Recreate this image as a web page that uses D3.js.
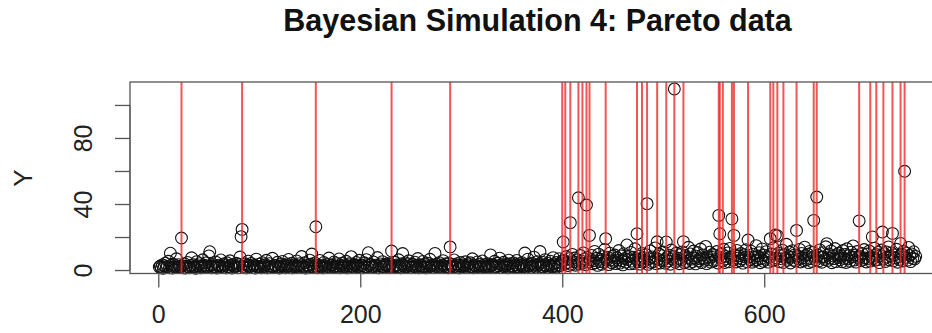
<!DOCTYPE html>
<html>
<head>
<meta charset="utf-8">
<script src="https://cdn.jsdelivr.net/npm/d3@7"></script>
<style>
  body { margin: 0; background: #fff; }
  svg { display: block; font-family: "Liberation Sans", Arial, sans-serif; }
</style>
</head>
<body>
<svg id="chart" width="932" height="333"></svg>
<script>
// chart text
const title = 'Bayesian Simulation 4: Pareto data';
const yLabel = 'Y';
const xTicks = [0, 200, 400, 600];
const yTicks = [0, 20, 40, 60, 80, 100];
const yTickLabels = ['0', '', '40', '', '80', ''];

// Y values for index 1..750 (25 per row)
const yValues = [
  1.8,2.4,1.3,3.1,1.1,2.7,4.2,1.6,2.2,5.3,1.4,10.2,2.9,1.2,3.6,1.9,2.5,6.8,1.5,3.3,2.1,1.7,19.4,2.6,1.3,
  3.8,1.2,2.3,4.6,1.9,1.4,2.8,7.4,1.6,3.2,2.0,1.1,5.1,2.7,1.8,3.9,1.3,2.4,6.2,1.7,2.9,4.3,1.5,2.2,8.6,
  11.1,2.6,1.4,3.4,2.1,1.9,4.8,1.2,2.5,3.0,1.7,6.1,2.3,1.5,3.7,2.8,1.3,4.4,2.0,1.6,5.6,2.9,1.2,3.3,2.4,
  1.8,4.1,2.7,1.4,3.5,7.9,20.2,24.6,2.2,1.6,3.8,1.3,2.9,5.4,1.9,2.4,4.0,1.5,3.1,2.6,1.2,6.6,2.3,1.8,3.6,
  2.0,1.4,4.5,2.8,1.7,3.3,5.9,1.3,2.5,3.9,1.6,2.2,7.1,1.9,3.0,2.7,1.5,4.7,2.1,1.2,3.4,2.6,5.2,1.8,2.9,
  1.4,3.7,2.3,6.4,1.6,2.8,4.1,1.3,2.0,3.2,1.9,5.5,2.4,1.5,3.9,2.7,8.2,1.7,2.2,4.4,1.2,3.1,2.5,1.8,6.0,
  3.5,9.7,2.1,1.6,4.3,26.2,2.6,1.4,3.0,5.8,1.9,2.4,1.3,4.6,2.8,1.7,3.6,2.2,7.3,1.5,2.9,3.3,1.8,4.9,2.3,
  1.6,3.9,2.5,6.7,1.4,2.7,4.2,1.9,3.1,2.0,5.3,1.3,2.6,3.8,1.7,8.1,2.4,1.5,3.4,2.9,4.6,1.8,2.2,5.9,1.6,
  3.2,2.6,1.4,4.4,2.1,6.3,1.7,10.5,2.8,3.5,1.5,2.3,4.9,1.9,3.0,2.5,7.6,1.3,2.7,3.7,1.8,5.1,2.2,1.6,3.4,
  2.9,4.0,1.7,2.4,3.6,11.5,2.0,1.5,4.7,2.6,3.1,1.8,6.2,2.3,1.4,3.9,10.0,2.7,1.9,4.3,2.1,3.3,5.6,1.6,2.8,
  1.5,3.5,2.2,4.8,1.8,2.9,7.0,1.4,3.2,2.5,1.7,5.2,2.0,3.7,1.3,2.6,4.1,1.9,6.5,2.4,3.0,1.6,2.8,10.1,2.2,
  3.6,1.7,4.5,2.3,1.5,3.1,5.7,2.7,1.9,3.8,2.1,1.4,4.2,14.0,2.5,3.4,1.8,6.1,2.2,1.6,3.9,2.9,1.3,4.6,2.4,
  1.9,3.3,2.6,5.0,1.5,2.8,3.7,1.7,4.4,2.1,6.8,1.4,3.0,2.5,1.8,4.9,2.3,3.6,1.6,2.7,5.5,1.9,3.2,2.0,1.5,
  3.8,2.4,1.7,9.2,2.9,3.4,1.6,5.3,2.2,1.8,4.1,2.6,7.2,1.5,3.1,2.3,4.7,1.9,2.8,3.5,1.4,6.0,2.5,3.9,1.7,
  2.6,4.3,1.8,3.2,5.8,2.1,1.6,3.7,2.9,4.5,1.9,2.4,10.3,3.0,1.7,6.6,2.7,3.5,1.5,4.2,2.3,7.8,3.1,1.8,5.1,
  2.9,3.6,11.2,2.2,4.8,1.9,3.3,6.3,2.6,1.7,4.0,2.8,5.4,3.1,2.0,7.5,3.7,2.4,4.6,1.8,3.2,6.9,2.7,4.3,5.6,
  17.0,5.8,3.9,8.2,4.6,2.7,6.9,28.7,3.4,9.5,5.1,7.3,2.9,4.8,6.2,43.8,3.6,8.8,5.5,4.1,10.4,6.7,3.2,39.4,7.6,
  4.9,21.0,6.3,8.9,3.8,5.7,11.3,4.4,7.1,2.8,9.6,5.2,6.6,3.5,8.1,4.7,12.4,19.0,5.9,7.8,3.3,10.2,6.1,4.5,8.4,
  5.3,9.1,3.9,7.4,6.0,11.8,4.2,8.6,5.6,3.1,9.9,7.0,4.8,15.2,6.4,8.3,3.7,10.7,5.4,7.7,4.0,12.9,6.8,22.0,5.0,
  8.5,3.6,6.2,10.1,4.9,7.5,5.8,9.3,40.2,3.4,6.9,11.6,4.6,8.0,5.2,7.2,13.4,3.9,17.1,6.5,9.7,4.3,8.7,5.7,10.9,
  6.3,4.1,17.0,7.9,5.5,9.0,3.5,12.1,6.7,8.2,109.7,4.7,10.3,5.9,7.1,3.8,9.4,6.1,11.0,17.2,4.4,8.8,5.3,7.6,13.8,
  4.0,9.8,6.6,5.1,11.5,7.3,3.7,8.4,10.6,5.6,6.8,12.7,4.5,9.2,7.0,5.9,14.3,3.9,8.1,6.2,10.8,4.8,7.8,9.5,5.4,
  8.9,6.4,11.2,4.3,33.1,22.0,7.4,9.9,5.7,12.6,4.6,8.3,6.9,10.4,5.0,13.1,7.7,31.0,6.0,21.0,9.1,4.9,11.9,7.2,8.6,
  5.5,10.0,6.7,4.2,9.3,7.9,12.3,5.1,18.2,8.0,6.3,11.4,4.7,9.6,7.5,5.8,14.8,6.1,8.5,10.5,4.4,7.0,12.8,5.3,9.0,
  6.5,11.1,8.2,4.8,7.6,19.0,9.7,5.6,13.5,6.2,21.2,7.3,20.8,10.2,5.0,8.7,6.8,12.0,4.6,9.4,7.1,15.6,5.9,8.1,10.9,
  4.3,7.8,11.7,6.0,9.2,5.4,24.0,8.5,6.6,12.5,4.9,10.1,7.4,5.7,13.9,8.9,6.3,9.6,4.5,11.3,7.0,5.2,10.7,30.1,8.3,
  6.1,44.2,9.0,5.5,12.2,7.7,4.7,10.5,8.0,6.4,14.1,16.0,5.8,9.8,7.2,11.6,4.4,8.6,6.9,13.0,5.1,9.3,7.5,10.3,6.2,
  8.4,5.0,11.8,7.1,9.5,4.6,12.9,6.7,8.8,5.3,10.8,7.9,14.6,6.0,9.1,4.8,11.2,7.6,29.8,8.2,5.6,10.0,6.5,12.4,7.3,
  4.9,9.7,6.8,11.5,5.4,8.0,20.1,7.0,13.3,5.9,9.4,6.3,10.9,4.5,8.7,12.1,23.0,6.6,9.9,5.2,11.0,7.8,14.0,6.1,8.5,
  10.4,22.2,5.7,9.2,7.3,12.6,4.7,8.1,6.4,16.1,9.6,5.5,11.4,59.8,7.7,10.2,6.0,13.7,8.9,5.1,9.8,7.0,11.1,6.7,8.3
];

// index positions of the red vertical lines
const flagged = [23, 83, 156, 231, 289, 400, 403, 408, 416, 420, 424, 427, 443, 474, 479, 484,
  494, 503, 511, 520, 555, 556, 559, 568, 570, 584, 606, 609, 613, 619, 632, 649, 652,
  694, 705, 711, 718, 727, 735, 739];

const points = yValues.map((v, i) => ({ x: i + 1, y: v }));

const svg = d3.select('#chart');
const box = { left: 130, right: 945, top: 82, bottom: 273.5 };

const x = d3.scaleLinear().domain([-28, 779]).range([box.left, box.right]);
const y = d3.scaleLinear().domain([-2.1, 113.9]).range([box.bottom, box.top]);

// points
svg.append('g')
  .selectAll('circle')
  .data(points)
  .enter()
  .append('circle')
  .attr('cx', d => x(d.x))
  .attr('cy', d => y(d.y))
  .attr('r', 5.9)
  .attr('fill', 'none')
  .attr('stroke', '#111')
  .attr('stroke-width', 1.1);

// red lines over the points
svg.append('g')
  .selectAll('line')
  .data(flagged)
  .enter()
  .append('line')
  .attr('x1', d => x(d)).attr('x2', d => x(d))
  .attr('y1', box.top).attr('y2', box.bottom)
  .attr('stroke', '#ee2a2a')
  .attr('stroke-opacity', 0.8)
  .attr('stroke-width', 2);

// box
svg.append('rect')
  .attr('x', box.left).attr('y', box.top)
  .attr('width', box.right - box.left).attr('height', box.bottom - box.top)
  .attr('fill', 'none').attr('stroke', '#555').attr('stroke-width', 1.3);

// x axis
const xAxis = svg.append('g')
  .attr('transform', 'translate(0,' + box.bottom + ')')
  .call(d3.axisBottom(x).tickValues(xTicks).tickSize(14).tickFormat(d3.format('d')));
xAxis.select('.domain').attr('d', 'M' + x(xTicks[0]) + ',0H' + x(xTicks[xTicks.length - 1])).attr('stroke', '#555');
xAxis.selectAll('.tick line').attr('stroke', '#555').attr('stroke-width', 1.3);
xAxis.selectAll('.tick text')
  .attr('y', 49).attr('dy', null)
  .attr('font-size', 25).attr('fill', '#222')
  .attr('font-family', '"Liberation Sans", Arial, sans-serif');

// y axis
const yAxis = svg.append('g')
  .attr('transform', 'translate(' + box.left + ',0)')
  .call(d3.axisLeft(y).tickValues(yTicks).tickSize(15).tickFormat((d, i) => yTickLabels[i]));
yAxis.select('.domain').attr('d', 'M0,' + y(yTicks[0]) + 'V' + y(yTicks[yTicks.length - 1])).attr('stroke', '#555');
yAxis.selectAll('.tick line').attr('stroke', '#555').attr('stroke-width', 1.3);
yAxis.selectAll('.tick text')
  .attr('x', null).attr('dy', null)
  .attr('font-size', 25).attr('fill', '#222')
  .attr('font-family', '"Liberation Sans", Arial, sans-serif')
  .attr('text-anchor', 'middle')
  .attr('transform', 'translate(-38,0) rotate(-90)');

// y label
svg.append('text')
  .attr('transform', 'translate(32,178) rotate(-90)')
  .attr('text-anchor', 'middle')
  .attr('font-size', 26)
  .attr('fill', '#222')
  .text(yLabel);

// title
svg.append('text')
  .attr('x', (box.left + box.right) / 2)
  .attr('y', 31)
  .attr('text-anchor', 'middle')
  .attr('font-size', 30.5)
  .attr('font-weight', 'bold')
  .attr('fill', '#111')
  .text(title);
</script>
</body>
</html>
